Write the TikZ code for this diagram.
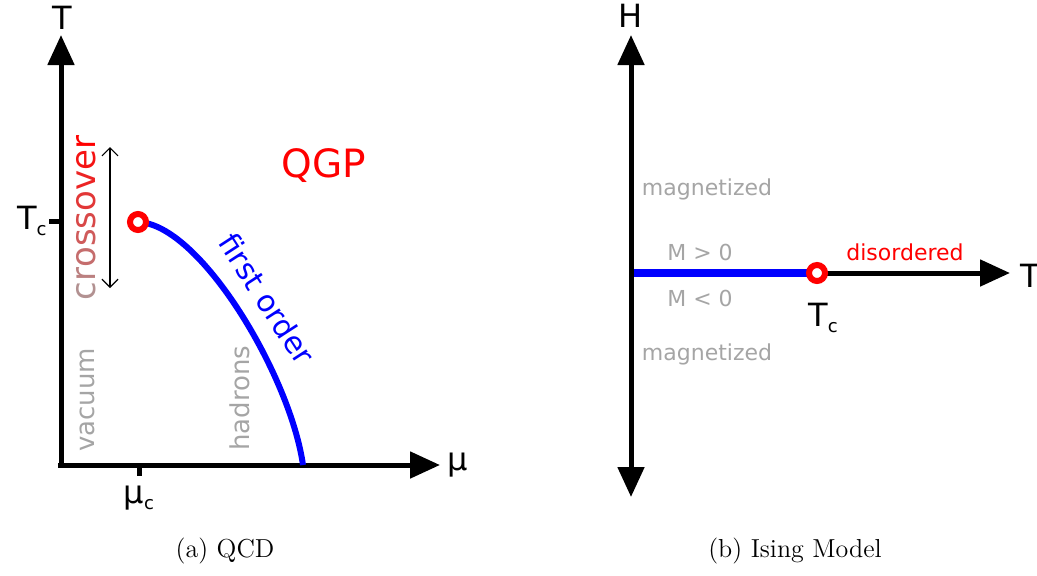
\documentclass[tikz,border=0pt]{standalone}
\usepackage{fontspec}
\usepackage{tikz}
\usetikzlibrary{arrows.meta,positioning}
\newfontfamily\dvsans{DejaVu Sans}
\definecolor{labgray}{RGB}{165,165,165}
\definecolor{xbrown}{RGB}{178,145,145}
\definecolor{lineblue}{RGB}{0,0,255}
\newcommand{\xcross}{\textcolor{red!0!xbrown}{c}\textcolor{red!12!xbrown}{r}\textcolor{red!25!xbrown}{o}\textcolor{red!37!xbrown}{s}\textcolor{red!50!xbrown}{s}\textcolor{red!62!xbrown}{o}\textcolor{red!75!xbrown}{v}\textcolor{red!87!xbrown}{e}\textcolor{red!100!xbrown}{r}}

\begin{document}
\begin{tikzpicture}[
 x=0.5pt,y=0.5pt,
 axis/.style={line width=2.5pt,-{Triangle[length=15pt,width=13pt]}},
 biaxis/.style={line width=2.5pt,{Triangle[length=15pt,width=13pt]}-{Triangle[length=15pt,width=13pt]}},
 tick/.style={line width=2.5pt},
 trans/.style={draw=lineblue,line width=3pt},
 crit/.style={circle,draw=red,fill=white,line width=3pt,minimum size=8pt,inner sep=0pt},
 axlabel/.style={font=\dvsans\fontsize{16}{16}\selectfont,inner sep=1pt},
 phase/.style={font=\dvsans\fontsize{13}{13}\selectfont,text=labgray},
 small/.style={font=\dvsans\fontsize{11}{11}\selectfont,text=labgray},
 caption/.style={font=\fontsize{13}{15}\selectfont}
]
\useasboundingbox (0,0) rectangle (1037,575);

% (a) QCD
\coordinate (o) at (61,110);
\coordinate (ttop) at (61,540);
\coordinate (mend) at (440,110);
\coordinate (tc) at (61,354);
\coordinate (tcl) at (49,354);
\coordinate (muc) at (139,110);
\coordinate (mucb) at (139,99);
\coordinate (cp) at (138,353);
\coordinate (fend) at (303,110);
\coordinate (xtop) at (110,428);
\coordinate (xbot) at (110,287);

\draw[axis] (58,110) -- (mend);
\draw[axis] (61,108) -- (ttop);
\draw[tick] (tc) -- (tcl);
\draw[tick] (muc) -- (mucb);
\draw[trans] (cp) .. controls (200,351) and (290,200) .. (fend);
\node[crit] (cpq) at (cp) {};
\draw[line width=0.6pt,{Straight Barb[length=4pt]}-{Straight Barb[length=4pt]}] (xtop) -- (xbot);

\node[axlabel] (tlab) at (62,557) {T};
\node[axlabel,anchor=west] (mulab) at (445,110) {μ};
\node[axlabel,left=0pt of tcl] (tclab) {T\raisebox{-3pt}{\fontsize{9}{9}\selectfont c}};
\node[axlabel,below=4pt of mucb] (muclab) {μ\raisebox{-3pt}{\fontsize{9}{9}\selectfont c}};
\node[font=\dvsans\fontsize{17}{17}\selectfont,rotate=90] (xover) at (86,357) {\xcross};
\node[font=\dvsans\fontsize{19.5}{19.5}\selectfont,text=red] (qgp) at (324,409) {QGP};
\node[font=\dvsans\fontsize{15}{15}\selectfont,text=lineblue,rotate=-57] (fo) at (267,276) {first order};
\node[phase,rotate=90] (vac) at (87,175) {vacuum};
\node[phase,rotate=90] (had) at (240,177) {hadrons};

% (b) Ising model
\coordinate (hbot) at (631,78);
\coordinate (htop) at (631,540);
\coordinate (hor) at (634,302);
\coordinate (ci) at (817,302);
\coordinate (tend) at (1010,302);

\draw[biaxis] (hbot) -- (htop);
\draw[axis] (ci) -- (tend);
\draw[trans,line width=4pt] (hor) -- (ci);
\node[crit] (cpi) at (ci) {};

\node[axlabel] (hlab) at (631,559) {H};
\node[axlabel,anchor=west] (tlabi) at (1018,299) {T};
\node[axlabel] (tclabi) at (823,257) {T\raisebox{-3pt}{\fontsize{9}{9}\selectfont c}};
\node[font=\dvsans\fontsize{11}{11}\selectfont,text=red] (dis) at (905,323) {disordered};
\node[small] (mpos) at (700,323) {M > 0};
\node[small] (mneg) at (700,277) {M < 0};
\node[small] (magu) at (707,386) {magnetized};
\node[small] (magd) at (707,221) {magnetized};

% captions
\node[caption] (capa) at (225,24) {(a) QCD};
\node[caption] (capb) at (795,24) {(b) Ising Model};
\end{tikzpicture}
\end{document}
